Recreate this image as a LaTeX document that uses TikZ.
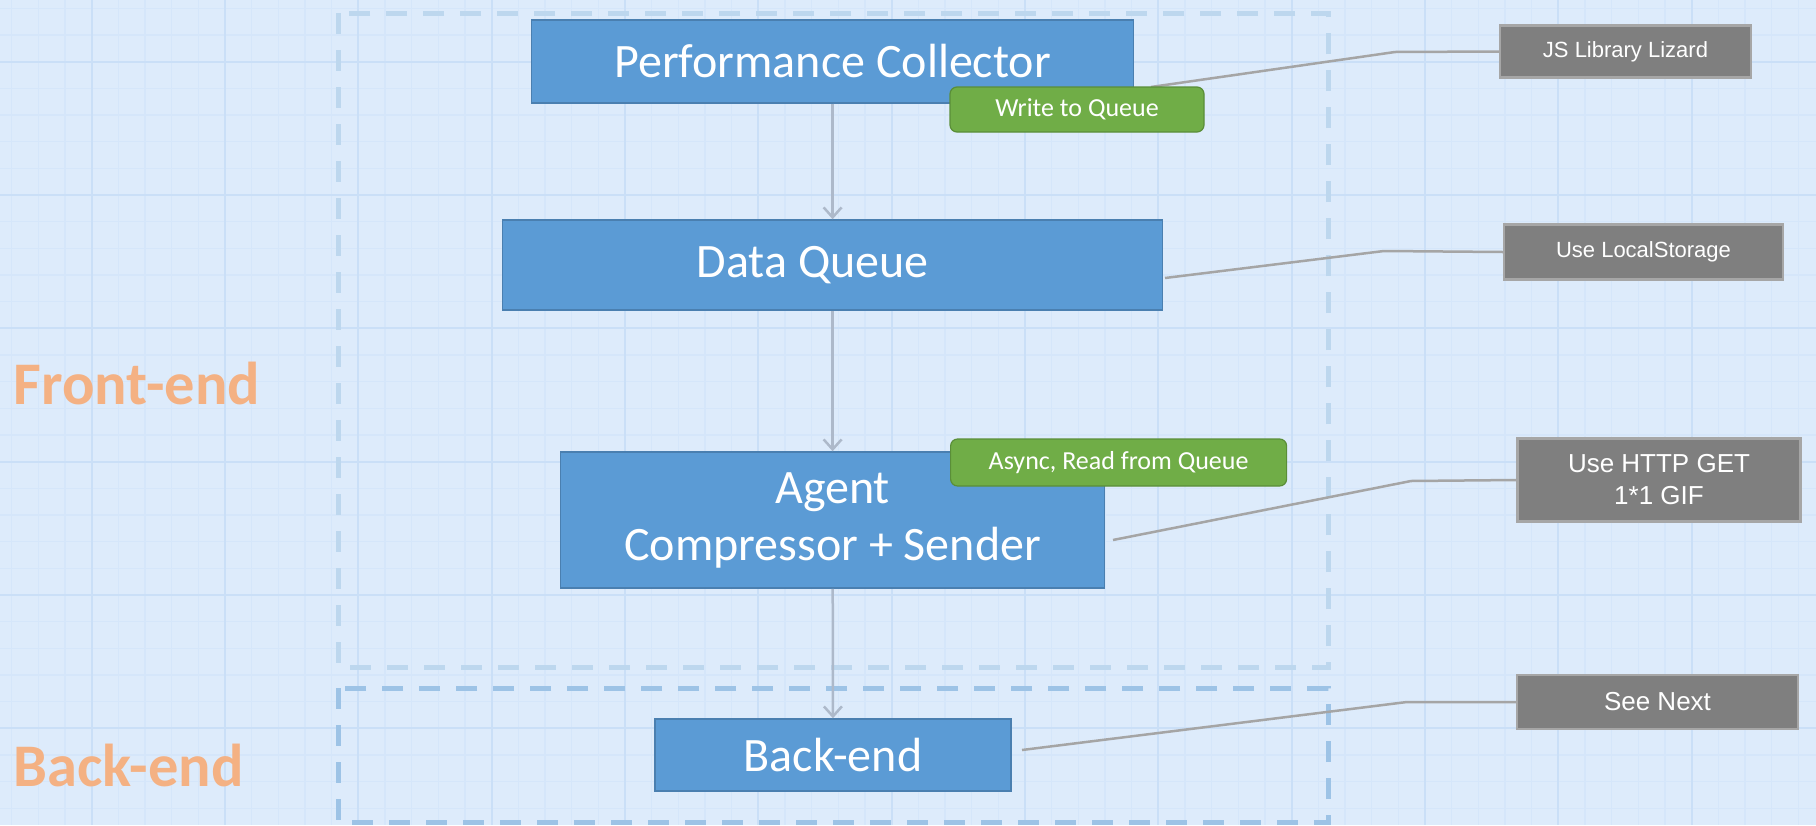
\documentclass[tikz,border=0pt]{standalone}
\usepackage{fontspec}
\setmainfont{Carlito}
\newfontfamily\notefont{Liberation Sans}
\usetikzlibrary{arrows.meta}

\definecolor{paper}{HTML}{DDEBFB}
\definecolor{gridminor}{HTML}{D5E6FA}
\definecolor{gridmajor}{HTML}{CADFF7}
\definecolor{blockfill}{HTML}{5B9BD5}
\definecolor{blockedge}{HTML}{4A7FB0}
\definecolor{tagfill}{HTML}{70AD47}
\definecolor{tagedge}{HTML}{5A8E38}
\definecolor{notefill}{HTML}{7F7F7F}
\definecolor{noteedge}{HTML}{A6A6A6}
\definecolor{flowgray}{HTML}{ADB9CA}
\definecolor{leadgray}{HTML}{A5A5A5}
\definecolor{framelight}{HTML}{BDD7EE}
\definecolor{framedark}{HTML}{9DC3E6}
\definecolor{layerorange}{HTML}{F4B183}

\begin{document}
\begin{tikzpicture}[x=1pt, y=-1pt,
  block/.style={draw=blockedge, fill=blockfill, text=white, line width=1.5pt,
    align=center, inner sep=0pt, font=\fontsize{48}{57}\selectfont},
  tag/.style={draw=tagedge, fill=tagfill, text=white, line width=1.2pt,
    rounded corners=7pt, inner sep=0pt, font=\fontsize{26}{30}\selectfont},
  note/.style={draw=noteedge, fill=notefill, text=white, line width=2.5pt,
    align=center, inner sep=0pt, font=\notefont\fontsize{26}{32}\selectfont},
  small note/.style={note, font=\notefont\fontsize{22}{28}\selectfont},
  flow/.style={draw=flowgray, line width=2.5pt,
    -{Straight Barb[length=10pt, width=18pt, line width=2.5pt]}},
  lead/.style={draw=leadgray, line width=2.5pt},
  layer/.style={text=layerorange, anchor=west, font=\bfseries\fontsize{60.5}{66}\selectfont},
  frame/.style={line width=5pt, dash pattern=on 21pt off 16pt}]

% paper and grid
\fill[paper] (0,0) rectangle (1816,825);
\useasboundingbox (0,0) rectangle (1816,825);
\foreach \i in {0,...,67}
  \draw[gridminor, line width=1.5pt] (11.7+26.667*\i,0) -- (11.7+26.667*\i,825);
\foreach \i in {0,...,30}
  \draw[gridminor, line width=1.5pt] (0,8.3+26.667*\i) -- (1816,8.3+26.667*\i);
\foreach \i in {0,...,13}
  \draw[gridmajor, line width=2pt] (91.7+133.33*\i,0) -- (91.7+133.33*\i,825);
\foreach \i in {0,...,6}
  \draw[gridmajor, line width=2pt] (0,61.7+133.33*\i) -- (1816,61.7+133.33*\i);

% layers
\draw[frame, framelight] (338,13) rectangle (1328,667);
\draw[frame, framedark] (338,688) rectangle (1328,822);
\node[layer] (front) at (10,383) {Front-end};
\node[layer] (back) at (10,765) {Back-end};

% pipeline
\node[block, minimum width=602, minimum height=83] (collector) at (832.6,61.4) {Performance Collector};
\node[block, minimum width=660, minimum height=90] (queue) at (832.6,265) {\raisebox{-4pt}{Data Queue}\hspace*{40pt}};
\node[block, minimum width=544, minimum height=136] (agent) at (832.6,520) {Agent\\Compressor + Sender};
\node[block, minimum width=356, minimum height=72] (backend) at (833,755) {Back-end};

\draw[flow] (collector) -- (queue);
\draw[flow] (queue) -- (agent);
\draw[flow] (agent) -- (backend);

% notes
\node[small note, minimum width=251, minimum height=52] (lizard) at (1625.5,51.5) {JS Library Lizard};
\node[small note, minimum width=279, minimum height=55] (storage) at (1643.5,252) {Use LocalStorage};
\node[note, minimum width=283, minimum height=83] (http) at (1659,480) {Use HTTP GET\\1*1 GIF};
\node[note, minimum width=281, minimum height=54] (next) at (1657.5,702) {See Next};

\coordinate (lizardkink) at (1395,52);
\coordinate (lizardend) at (1151,87);
\coordinate (storagekink) at (1384,251);
\coordinate (storageend) at (1165,278);
\coordinate (httpkink) at (1411,481);
\coordinate (httpend) at (1113,540);
\coordinate (nextkink) at (1407,702);
\coordinate (nextend) at (1022,750);

\draw[lead] (lizard.west) -- (lizardkink) -- (lizardend);
\draw[lead] (storage.west) -- (storagekink) -- (storageend);
\draw[lead] (http.west) -- (httpkink) -- (httpend);
\draw[lead] (next.west) -- (nextkink) -- (nextend);

% tags
\node[tag, minimum width=254, minimum height=45] (write) at (1077,109.5) {Write to Queue};
\node[tag, minimum width=336, minimum height=47] (read) at (1118.6,462.5) {Async, Read from Queue};
\end{tikzpicture}
\end{document}
